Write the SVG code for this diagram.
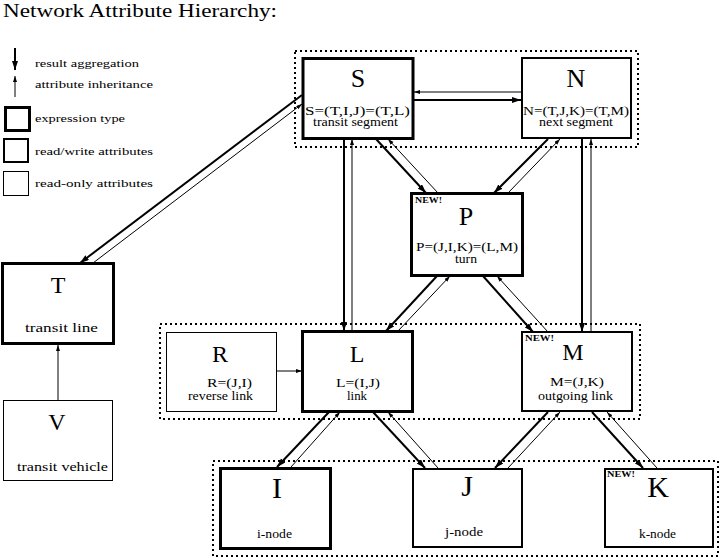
<svg xmlns="http://www.w3.org/2000/svg" width="720" height="558" viewBox="0 0 720 558">
<style>
text{font-family:"Liberation Serif","Times New Roman",serif;fill:#000}
.title{font-size:18px}
.lg{font-size:11px}
.big{font-size:26px;text-anchor:middle}
.mid{font-size:24px;text-anchor:middle}
.huge{font-size:30px;text-anchor:middle}
.lab{font-size:11.5px}
.new{font-size:8px;font-weight:bold}
.b3{fill:#fff;stroke:#000;stroke-width:3}
.b2{fill:#fff;stroke:#000;stroke-width:2}
.b1{fill:#fff;stroke:#000;stroke-width:1}
.grp{fill:none;stroke:#000;stroke-width:2;stroke-dasharray:2 3}
.agg{fill:none;stroke:#000;stroke-width:2;marker-end:url(#ah)}
.inh{fill:none;stroke:#000;stroke-width:1;marker-end:url(#ai)}
</style>
<defs>
<marker id="ah" markerUnits="userSpaceOnUse" markerWidth="10" markerHeight="7" refX="9" refY="3" orient="auto"><path d="M0,0 L9,3 L0,6 z" fill="#000"/></marker>
<marker id="ai" markerUnits="userSpaceOnUse" markerWidth="7" markerHeight="5" refX="6" refY="2" orient="auto"><path d="M0,0 L6,2 L0,4 z" fill="#000"/></marker>
</defs>
<rect width="720" height="558" fill="#fff"/>
<text class="title" x="3" y="17" textLength="274" lengthAdjust="spacingAndGlyphs">Network Attribute Hierarchy:</text>

<g id="legend">
<path class="agg" d="M15,48 L15,70"/>
<text class="lg" x="35" y="67" textLength="104" lengthAdjust="spacingAndGlyphs">result aggregation</text>
<path class="inh" d="M15,97 L15,76"/>
<text class="lg" x="35" y="88" textLength="118" lengthAdjust="spacingAndGlyphs">attribute inheritance</text>
<rect class="b3" x="5.5" y="107.5" width="24" height="23"/>
<text class="lg" x="35" y="122" textLength="90" lengthAdjust="spacingAndGlyphs">expression type</text>
<rect class="b2" x="4" y="139" width="24" height="23"/>
<text class="lg" x="35" y="155" textLength="118" lengthAdjust="spacingAndGlyphs">read/write attributes</text>
<rect class="b1" x="3.5" y="171.5" width="25" height="24"/>
<text class="lg" x="35" y="187" textLength="118" lengthAdjust="spacingAndGlyphs">read-only attributes</text>
</g>

<g id="groups">
<rect class="grp" x="295" y="51" width="343" height="96"/>
<rect class="grp" x="160" y="324" width="480" height="95"/>
<rect class="grp" x="213" y="461" width="505" height="95"/>
</g>

<g id="connectors">
<path class="agg" d="M302,95 L80,263"/>
<path class="agg" d="M414,100 L521,100"/>
<path class="agg" d="M344,139 L344,331"/>
<path class="agg" d="M376,139 L426,193"/>
<path class="agg" d="M548,139 L494,193"/>
<path class="agg" d="M582,139 L582,332"/>
<path class="agg" d="M437,276 L386,331"/>
<path class="agg" d="M483,276 L533,332"/>
<path class="agg" d="M329,412 L277,467"/>
<path class="agg" d="M373,412 L425,468"/>
<path class="agg" d="M548,412 L495,468"/>
<path class="agg" d="M592,412 L643,468"/>
<path class="inh" d="M93,263 L302,104"/>
<path class="inh" d="M521,92 L414,92"/>
<path class="inh" d="M352,331 L352,139"/>
<path class="inh" d="M438,193 L388,139"/>
<path class="inh" d="M508,193 L560,139"/>
<path class="inh" d="M591,332 L591,139"/>
<path class="inh" d="M398,331 L450,276"/>
<path class="inh" d="M548,332 L497,276"/>
<path class="inh" d="M291,467 L340,412"/>
<path class="inh" d="M438,468 L388,412"/>
<path class="inh" d="M508,468 L560,412"/>
<path class="inh" d="M657,468 L607,412"/>
<path class="inh" d="M58,400 L58,345"/>
<path class="inh" d="M277,371 L302,371"/>
</g>

<g id="node-S">
<rect class="b3" x="303" y="58.5" width="110" height="80"/>
<text class="big" x="358" y="87">S</text>
<text class="lab" x="305" y="115" textLength="105" lengthAdjust="spacingAndGlyphs">S=(T,I,J)=(T,L)</text>
<text class="lab" x="313" y="126" textLength="85" lengthAdjust="spacingAndGlyphs">transit segment</text>
</g>
<g id="node-N">
<rect class="b2" x="522" y="58" width="109" height="80"/>
<text class="big" x="576" y="87">N</text>
<text class="lab" x="523" y="115" textLength="106" lengthAdjust="spacingAndGlyphs">N=(T,J,K)=(T,M)</text>
<text class="lab" x="539" y="126" textLength="74" lengthAdjust="spacingAndGlyphs">next segment</text>
</g>
<g id="node-P">
<rect class="b3" x="411.5" y="193.5" width="111" height="82"/>
<text class="new" x="415" y="203" textLength="27" lengthAdjust="spacingAndGlyphs">NEW!</text>
<text class="big" x="466" y="225">P</text>
<text class="lab" x="416" y="251" textLength="102" lengthAdjust="spacingAndGlyphs">P=(J,I,K)=(L,M)</text>
<text class="lab" x="455" y="263" textLength="22" lengthAdjust="spacingAndGlyphs">turn</text>
</g>
<g id="node-T">
<rect class="b3" x="2.5" y="263.5" width="111" height="80"/>
<text class="mid" x="58" y="293">T</text>
<text class="lab" x="25" y="332" textLength="73" lengthAdjust="spacingAndGlyphs">transit line</text>
</g>
<g id="node-V">
<rect class="b1" x="3.5" y="400.5" width="109" height="80"/>
<text class="mid" x="57" y="430">V</text>
<text class="lab" x="17" y="471" textLength="91" lengthAdjust="spacingAndGlyphs">transit vehicle</text>
</g>
<g id="node-R">
<rect class="b1" x="166.5" y="332.5" width="110" height="79"/>
<text class="mid" x="220" y="362">R</text>
<text class="lab" x="207" y="387" textLength="45" lengthAdjust="spacingAndGlyphs">R=(J,I)</text>
<text class="lab" x="188" y="400" textLength="65" lengthAdjust="spacingAndGlyphs">reverse link</text>
</g>
<g id="node-L">
<rect class="b3" x="302.5" y="331.5" width="110" height="80"/>
<text class="mid" x="357" y="362">L</text>
<text class="lab" x="336" y="387" textLength="44" lengthAdjust="spacingAndGlyphs">L=(I,J)</text>
<text class="lab" x="347" y="400" textLength="20" lengthAdjust="spacingAndGlyphs">link</text>
</g>
<g id="node-M">
<rect class="b2" x="522" y="332" width="110" height="79"/>
<text class="new" x="525" y="341" textLength="29" lengthAdjust="spacingAndGlyphs">NEW!</text>
<text class="mid" x="573" y="360">M</text>
<text class="lab" x="550" y="386" textLength="54" lengthAdjust="spacingAndGlyphs">M=(J,K)</text>
<text class="lab" x="538" y="400" textLength="75" lengthAdjust="spacingAndGlyphs">outgoing link</text>
</g>
<g id="node-I">
<rect class="b3" x="220.5" y="468.5" width="110" height="80"/>
<text class="huge" x="277" y="498">I</text>
<text class="lab" x="257" y="538" textLength="35" lengthAdjust="spacingAndGlyphs">i-node</text>
</g>
<g id="node-J">
<rect class="b2" x="413" y="469" width="109" height="78"/>
<text class="huge" x="467" y="496">J</text>
<text class="lab" x="445" y="536" textLength="38" lengthAdjust="spacingAndGlyphs">j-node</text>
</g>
<g id="node-K">
<rect class="b2" x="605" y="469" width="108" height="78"/>
<text class="new" x="607" y="477" textLength="28" lengthAdjust="spacingAndGlyphs">NEW!</text>
<text class="huge" x="658" y="497">K</text>
<text class="lab" x="639" y="538" textLength="37" lengthAdjust="spacingAndGlyphs">k-node</text>
</g>
</svg>
